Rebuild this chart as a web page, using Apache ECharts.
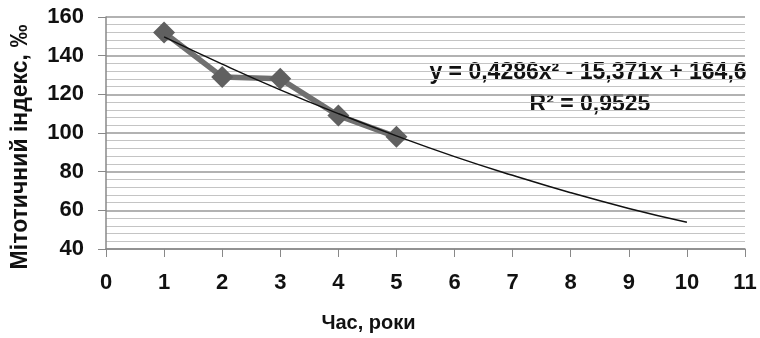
<!DOCTYPE html>
<html>
<head>
<meta charset="utf-8">
<script src="https://cdn.jsdelivr.net/npm/echarts@6/dist/echarts.min.js"></script>
<style>
  html, body { margin: 0; padding: 0; background: #fff; }
  #chart { width: 760px; height: 338px; }
</style>
</head>
<body>
<div id="chart"></div>
<script>
// мітотичний індекс за роками
var chart = echarts.init(document.getElementById('chart'));

var years = [1, 2, 3, 4, 5];
var mitIndex = [152, 129, 128, 109, 98];

// поліноміальний тренд
var trendYears = [1, 2, 3, 4, 5, 6, 7, 8, 9, 10];
var trendValues = [149.7, 135.6, 122.3, 110.0, 98.5, 87.8, 78.1, 69.1, 61.0, 53.8];

var eqText = 'y = 0,4286x² - 15,371x + 164,6';
var r2Text = 'R² = 0,9525';

var font = 'Liberation Sans';

var option = {
    backgroundColor: '#fff',
    animation: false,
    grid: {
        left: 106,
        right: 15,
        top: 17,
        bottom: 89
    },
    xAxis: {
        type: 'value',
        min: 0,
        max: 11,
        interval: 1,
        name: 'Час, роки',
        nameLocation: 'middle',
        nameGap: 64,
        nameTextStyle: { fontFamily: font, fontWeight: 'bold', fontSize: 20, color: '#111', padding: [0, 114, 0, 0] },
        axisLine: { show: true, lineStyle: { color: '#888', width: 1.5 } },
        axisTick: { show: true, length: 8, lineStyle: { color: '#888' } },
        axisLabel: { margin: 23, fontFamily: font, fontWeight: 'bold', fontSize: 22, color: '#111' },
        splitLine: { show: false }
    },
    yAxis: {
        type: 'value',
        min: 40,
        max: 160,
        interval: 20,
        name: 'Мітотичний індекс, ‰',
        nameLocation: 'middle',
        nameGap: 74,
        nameTextStyle: { fontFamily: font, fontWeight: 'bold', fontSize: 23, color: '#111', padding: [0, 0, 0, -28] },
        axisLine: { show: true, lineStyle: { color: '#888', width: 1.5 } },
        axisTick: { show: true, length: 8, lineStyle: { color: '#888' } },
        axisLabel: { margin: 22, fontFamily: font, fontWeight: 'bold', fontSize: 22, color: '#111' },
        splitLine: { show: true, lineStyle: { color: '#999', width: 1.5 } },
        minorTick: { show: false, splitNumber: 5 },
        minorSplitLine: { show: true, lineStyle: { color: '#c4c4c4', width: 1.2 } }
    },
    series: [
        {
            type: 'line',
            data: years.map(function (x, i) { return [x, mitIndex[i]]; }),
            symbol: 'diamond',
            symbolSize: 22,
            lineStyle: { color: '#707070', width: 5.5 },
            itemStyle: { color: '#606060' },
            z: 2
        },
        {
            type: 'line',
            data: trendYears.map(function (x, i) { return [x, trendValues[i]]; }),
            smooth: true,
            symbol: 'none',
            lineStyle: { color: '#111', width: 1.5 },
            z: 3
        }
    ],
    graphic: [
        {
            type: 'text',
            x: 588,
            y: 73,
            style: { text: eqText, align: 'center', verticalAlign: 'middle', fontFamily: font, fontWeight: 'bold', fontSize: 23, fill: '#111' }
        },
        {
            type: 'text',
            x: 590,
            y: 105,
            style: { text: r2Text, align: 'center', verticalAlign: 'middle', fontFamily: font, fontWeight: 'bold', fontSize: 23, fill: '#111' }
        }
    ]
};

chart.setOption(option);
</script>
</body>
</html>
